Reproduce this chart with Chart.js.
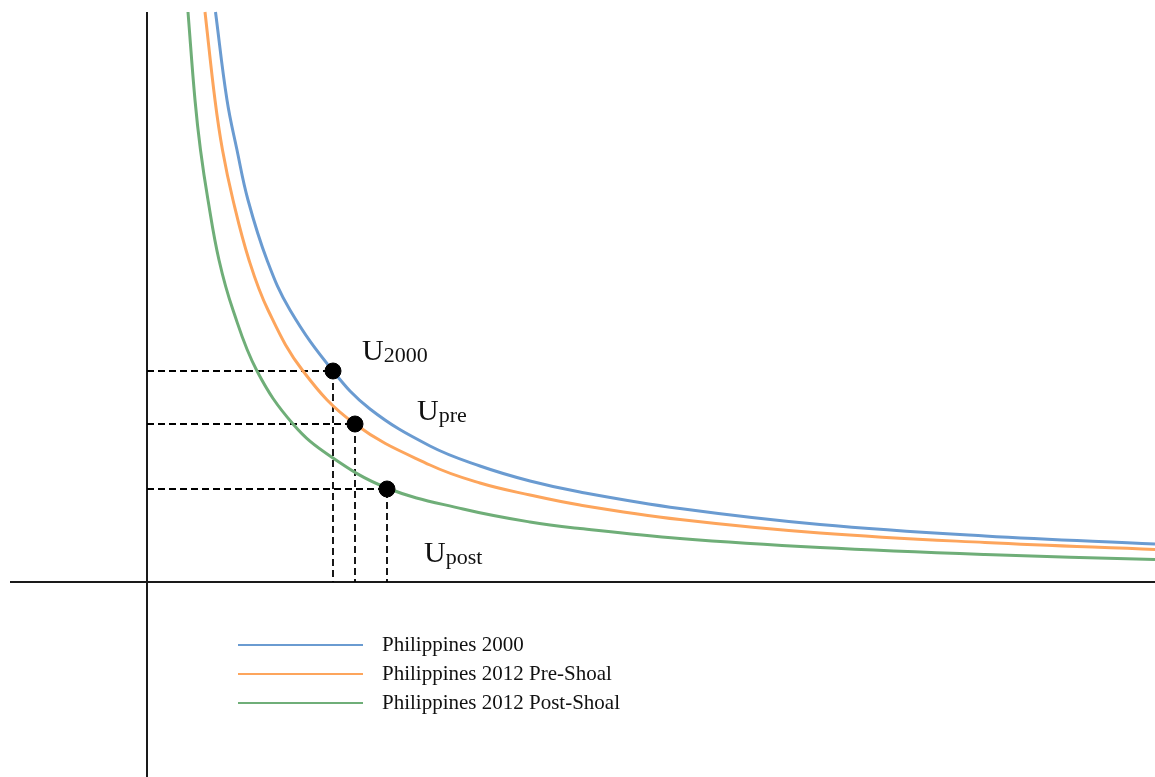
<!DOCTYPE html>
<html>
<head>
<meta charset="utf-8">
<script src="https://cdn.jsdelivr.net/npm/chart.js@4.4.1/dist/chart.umd.min.js"></script>
<style>
    body { margin: 0; background: #fff; }
    #wrap { position: relative; width: 1155px; height: 777px; }
    #legend {
        position: absolute; left: 238px; top: 630px;
        font-family: "Liberation Serif", "Times New Roman", serif;
        font-size: 21px; color: #111;
    }
    .row { display: flex; align-items: center; height: 29px; white-space: nowrap; }
    .swatch { width: 125px; height: 2px; margin-right: 19px; }
</style>
</head>
<body>
<div id="wrap">
    <canvas id="chartBox" width="1155" height="777"></canvas>
    <div id="legend"></div>
</div>
<script>
// 系列名稱與顏色
let seriesNames = ['Philippines 2000', 'Philippines 2012 Pre-Shoal', 'Philippines 2012 Post-Shoal']
let seriesColors = ['#6a9bd1', '#fda55c', '#6fae78']

// 無差異曲線 (讀圖估計)
let x2000 = [6.85, 8.0, 9.0, 10.1, 12.0, 14.3, 18.6, 22.3, 28.3, 33.3, 38.3, 43.3, 53.3, 67.3, 83.8, 100.8]
let y2000 = [57.0, 48.2, 43.2, 38.2, 32.2, 27.2, 21.1, 17.3, 13.6, 11.6, 10.1, 9.0, 7.35, 5.75, 4.6, 3.8]

let xPre = [5.8, 6.8, 7.55, 8.6, 10.2, 12.1, 15.6, 20.8, 28.3, 33.3, 38.3, 43.3, 53.3, 67.3, 83.8, 100.8]
let yPre = [57.0, 48.2, 43.2, 38.2, 32.2, 27.2, 21.1, 15.8, 11.7, 9.9, 8.7, 7.7, 6.25, 4.9, 3.95, 3.25]

let xPost = [4.1, 4.8, 5.35, 6.1, 7.2, 8.6, 11.0, 14.6, 18.3, 24.0, 31.6, 38.3, 43.3, 53.3, 67.3, 83.8, 100.8]
let yPost = [57.0, 48.2, 43.2, 38.2, 32.2, 27.2, 21.1, 15.8, 12.6, 9.4, 7.3, 6.0, 5.35, 4.35, 3.45, 2.75, 2.25]

// 選擇點
let pointSubs = ['2000', 'pre', 'post']
let pointX = [18.6, 20.8, 24.0]
let pointY = [21.1, 15.8, 9.3]

// 座標軸範圍
let axisX = [-13.7, 100.8]
let axisY = [-19.5, 57.0]

function toXY(xs, ys) {
    return xs.map((v, i) => ({ x: v, y: ys[i] }))
}

let datasets = []

// 曲線
let curveX = [x2000, xPre, xPost]
let curveY = [y2000, yPre, yPost]
curveX.forEach(function(xs, i) {
    datasets.push({
        label: seriesNames[i],
        data: toXY(xs, curveY[i]),
        showLine: true,
        borderColor: seriesColors[i],
        borderWidth: 3,
        pointRadius: 0,
        tension: 0.4,
        order: 2
    })
})

// 虛線
pointX.forEach(function(v, i) {
    datasets.push({
        data: [{ x: 0, y: pointY[i] }, { x: v, y: pointY[i] }, { x: v, y: 0 }],
        showLine: true,
        borderColor: '#000',
        borderWidth: 1.8,
        borderDash: [7, 4],
        pointRadius: 0,
        order: 3
    })
})

// 座標軸
datasets.push({
    data: [{ x: axisX[0], y: 0 }, { x: axisX[1], y: 0 }],
    showLine: true, borderColor: '#1a1a1a', borderWidth: 2, pointRadius: 0, order: 4
})
datasets.push({
    data: [{ x: 0, y: axisY[0] }, { x: 0, y: axisY[1] }],
    showLine: true, borderColor: '#1a1a1a', borderWidth: 2, pointRadius: 0, order: 4
})

// 黑點
datasets.push({
    data: toXY(pointX, pointY),
    showLine: false,
    pointRadius: 8,
    pointBackgroundColor: '#000',
    pointBorderColor: '#000',
    order: 1
})

// U 標籤
const labelPlugin = {
    id: 'uLabels',
    afterDatasetsDraw(chart) {
        const ctx = chart.ctx
        const xs = chart.scales.x
        const ys = chart.scales.y
        const offs = [[29, -11], [62, -4], [37, 73]]
        ctx.save()
        ctx.fillStyle = '#111'
        ctx.textBaseline = 'alphabetic'
        pointX.forEach(function(v, i) {
            let px = xs.getPixelForValue(v) + offs[i][0]
            let py = ys.getPixelForValue(pointY[i]) + offs[i][1]
            ctx.font = '30px "Liberation Serif"'
            ctx.fillText('U', px, py)
            let w = ctx.measureText('U').width
            ctx.font = '22px "Liberation Serif"'
            ctx.fillText(pointSubs[i], px + w, py + 2)
        })
        ctx.restore()
    }
}

var ctx = document.getElementById('chartBox').getContext('2d')
var chart = new Chart(ctx, {
    type: 'scatter',
    data: { datasets: datasets },
    options: {
        responsive: false,
        animation: false,
        layout: { padding: 0, autoPadding: false },
        plugins: {
            legend: { display: false },
            tooltip: { enabled: false }
        },
        scales: {
            x: { type: 'linear', display: false, min: -14.7, max: 100.8 },
            y: { type: 'linear', display: false, min: -19.5, max: 58.2 }
        }
    },
    plugins: [labelPlugin]
})

// 圖例
let legendBox = document.getElementById('legend')
seriesNames.forEach(function(name, i) {
    let row = document.createElement('div')
    row.className = 'row'
    let sw = document.createElement('span')
    sw.className = 'swatch'
    sw.style.background = seriesColors[i]
    let tx = document.createElement('span')
    tx.textContent = name
    row.appendChild(sw)
    row.appendChild(tx)
    legendBox.appendChild(row)
})
</script>
</body>
</html>
